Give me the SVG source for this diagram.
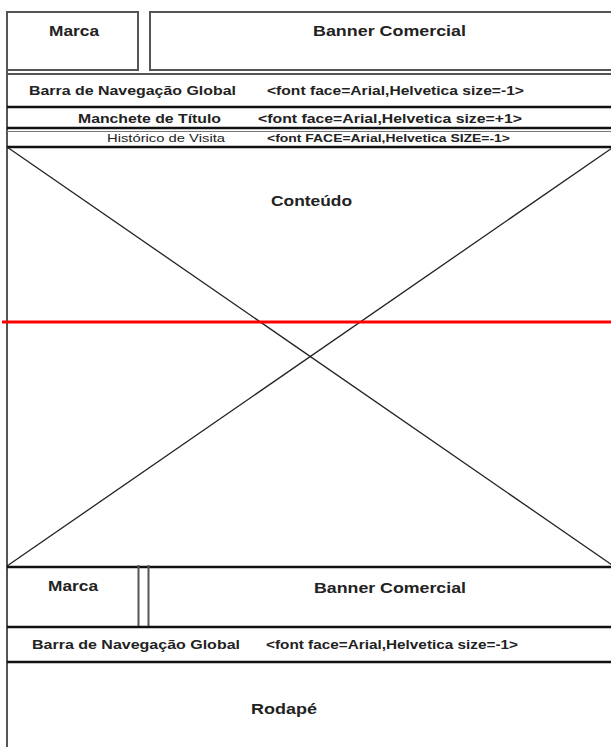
<svg xmlns="http://www.w3.org/2000/svg" width="611" height="747" viewBox="0 0 611 747">
<style>
  .g { stroke: #555; stroke-width: 2; fill: none; }
  .k { stroke: #111; stroke-width: 2.5; fill: none; }
  .thin { stroke: #777; stroke-width: 1; fill: none; }
  .diag { stroke: #222; stroke-width: 1.3; fill: none; }
  .red { stroke: #ff0000; stroke-width: 3; fill: none; }
  text { font-family: "Liberation Sans", Arial, sans-serif; fill: #222; lengthAdjust: spacingAndGlyphs; }
  .h { font-size: 15px; font-weight: bold; }
  .m { font-size: 13px; font-weight: bold; }
  .s { font-size: 11px; }
  .sb { font-size: 11px; font-weight: bold; }
</style>
<rect width="611" height="747" fill="#ffffff"/>
<line class="g" x1="7" y1="11" x2="7" y2="747"/>

<g id="marca-top">
  <rect class="g" x="7" y="12" width="131" height="58"/>
  <text class="h" x="49" y="36" textLength="50" lengthAdjust="spacingAndGlyphs">Marca</text>
</g>
<g id="banner-top">
  <path class="g" d="M611,12 H150 V70 H611"/>
  <text class="h" x="313" y="36" textLength="153" lengthAdjust="spacingAndGlyphs">Banner Comercial</text>
</g>
<g id="nav-top">
  <line class="g" x1="7" y1="74" x2="611" y2="74"/>
  <line class="k" x1="7" y1="107" x2="611" y2="107"/>
  <text class="m" x="29" y="95" textLength="207" lengthAdjust="spacingAndGlyphs">Barra de Navegação Global</text>
  <text class="m" x="267" y="95" textLength="257" lengthAdjust="spacingAndGlyphs">&lt;font face=Arial,Helvetica size=-1&gt;</text>
</g>
<g id="manchete">
  <line class="k" x1="7" y1="128" x2="611" y2="128"/>
  <line class="thin" x1="7" y1="131.5" x2="611" y2="131.5"/>
  <text class="m" x="78" y="123" textLength="143" lengthAdjust="spacingAndGlyphs">Manchete de Título</text>
  <text class="m" x="258" y="123" textLength="264" lengthAdjust="spacingAndGlyphs">&lt;font face=Arial,Helvetica size=+1&gt;</text>
</g>
<g id="historico">
  <line class="k" x1="7" y1="147" x2="611" y2="147"/>
  <text class="s" x="107" y="142" textLength="118" lengthAdjust="spacingAndGlyphs">Histórico de Visita</text>
  <text class="sb" x="267" y="142" textLength="243" lengthAdjust="spacingAndGlyphs">&lt;font FACE=Arial,Helvetica SIZE=-1&gt;</text>
</g>
<g id="conteudo">
  <line class="diag" x1="7" y1="147" x2="615" y2="567"/>
  <line class="diag" x1="7" y1="566" x2="615" y2="146"/>
  <text class="h" x="271" y="206" textLength="81" lengthAdjust="spacingAndGlyphs">Conteúdo</text>
  <line class="red" x1="2" y1="322" x2="611" y2="322"/>
</g>
<g id="marca-bottom">
  <line class="k" x1="7" y1="567" x2="611" y2="567"/>
  <line class="g" x1="138.5" y1="565" x2="138.5" y2="627"/>
  <line class="g" x1="148.5" y1="565" x2="148.5" y2="627"/>
  <text class="h" x="48" y="591" textLength="50" lengthAdjust="spacingAndGlyphs">Marca</text>
</g>
<g id="banner-bottom">
  <line class="k" x1="7" y1="627" x2="611" y2="627"/>
  <text class="h" x="314" y="593" textLength="152" lengthAdjust="spacingAndGlyphs">Banner Comercial</text>
</g>
<g id="nav-bottom">
  <line class="k" x1="7" y1="662" x2="611" y2="662"/>
  <text class="m" x="32" y="649" textLength="208" lengthAdjust="spacingAndGlyphs">Barra de Navegação Global</text>
  <text class="m" x="266" y="649" textLength="252" lengthAdjust="spacingAndGlyphs">&lt;font face=Arial,Helvetica size=-1&gt;</text>
</g>
<g id="rodape">
  <text class="h" x="251" y="714" textLength="66" lengthAdjust="spacingAndGlyphs">Rodapé</text>
</g>
</svg>
